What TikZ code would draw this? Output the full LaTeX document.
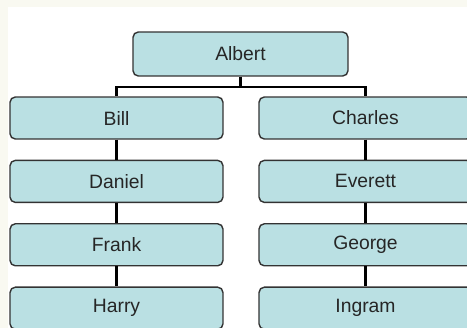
\documentclass[tikz,border=0pt]{standalone}
\usepackage{fontspec}
\setmainfont{Liberation Sans}
\usetikzlibrary{positioning}

\definecolor{boxfill}{HTML}{BAE0E3}
\definecolor{boxline}{HTML}{333333}
\definecolor{paper}{HTML}{F9F9F1}

\tikzset{
	person/.style = {draw = boxline, fill = boxfill, line width = 0.8pt,
		rounded corners = 3pt, minimum width = 4.26cm, minimum height = 0.84cm,
		inner sep = 0pt, font = \fontsize{11}{13}\selectfont, text = black!85},
	link/.style = {line width = 1.2pt, black}
}

\begin{document}
\begin{tikzpicture}[x = 0.02cm, y = -0.02cm]

	% Definitions

	\def\gap{0.40cm}	% Space between two boxes

	% Page

	\useasboundingbox (0, 0) rectangle (467, 328);
	\clip (0, 0) rectangle (467, 328);
	\fill [paper] (0, 0) rectangle (467, 328);
	\fill [white] (8, 7) rectangle (467, 328);

	% Top of the tree

	\node [person, minimum width = 4.3cm, minimum height = 0.88cm] (albert) at (240.5, 54) {Albert};

	% Left column

	\node [person] (bill) at (116.5, 118) {Bill};
	\node [person, below = \gap of bill] (daniel) {Daniel};
	\node [person, below = \gap of daniel] (frank) {Frank};
	\node [person, below = \gap of frank] (harry) {Harry};

	% Right column

	\node [person] (charles) at (365.5, 118) {Charles};
	\node [person, below = \gap of charles] (everett) {Everett};
	\node [person, below = \gap of everett] (george) {George};
	\node [person, below = \gap of george] (ingram) {Ingram};

	% Connectors

	\coordinate (fork) at (240.5, 87);
	\draw [link] (albert.south) -- (fork);
	\draw [link] (fork) -| (bill.north);
	\draw [link] (fork) -| (charles.north);

	\draw [link] (bill) -- (daniel) (daniel) -- (frank) (frank) -- (harry);
	\draw [link] (charles) -- (everett) (everett) -- (george) (george) -- (ingram);

\end{tikzpicture}
\end{document}
